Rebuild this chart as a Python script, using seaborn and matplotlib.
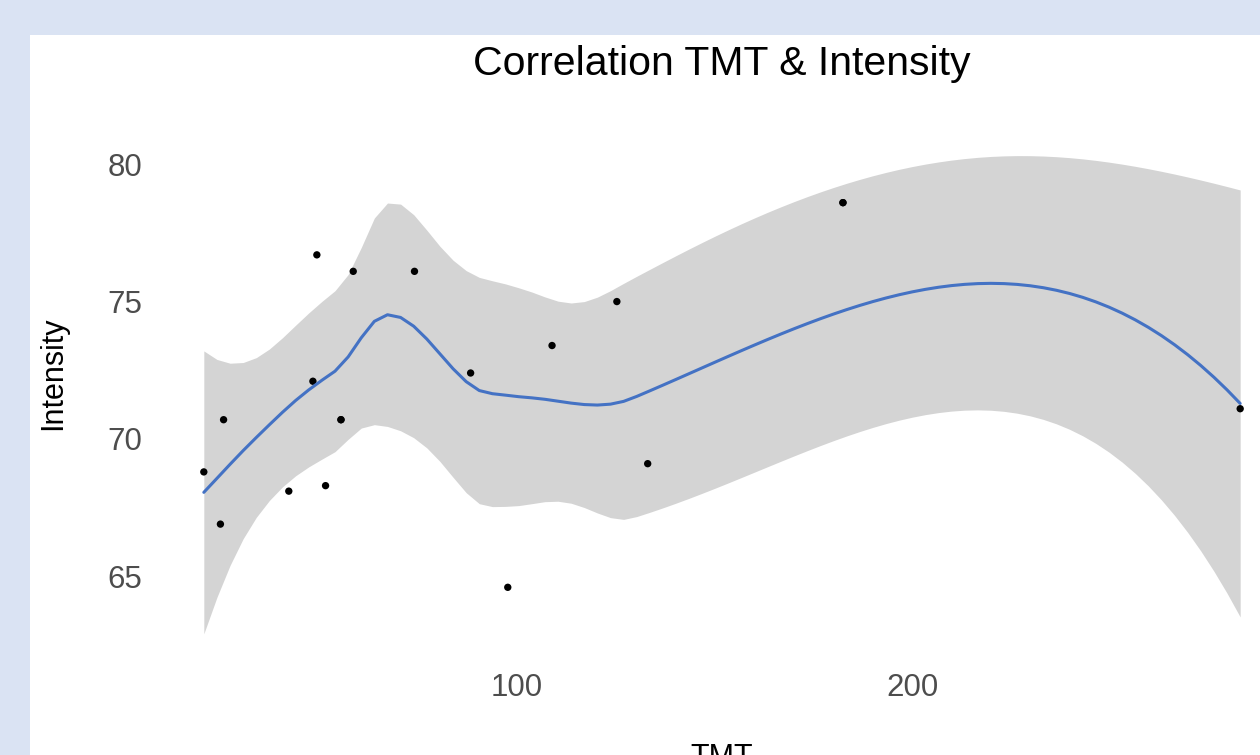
import numpy as np
import pandas as pd
import matplotlib
matplotlib.use("Agg")
import matplotlib.pyplot as plt
from matplotlib.patches import Rectangle
import seaborn as sns
from math import lgamma, pi

tmt = [20.8, 25.0, 25.8, 42.3, 48.4, 49.4, 51.6, 55.5, 55.5, 58.6, 74.1,
       88.3, 97.7, 108.9, 125.3, 133.1, 182.5, 182.5, 283.0]
intensity = [68.8, 66.9, 70.7, 68.1, 72.1, 76.7, 68.3, 70.7, 70.7, 76.1, 76.1,
             72.4, 64.6, 73.4, 75.0, 69.1, 78.6, 78.6, 71.1]
x_ticks = [100, 200]
y_ticks = [65, 70, 75, 80]
y_limits = [62.1, 82.7]
title = "Correlation TMT & Intensity"
x_label = "TMT"
y_label = "Intensity"

df = pd.DataFrame({"TMT": tmt, "Intensity": intensity})


# ---- loess (span 0.75, degree 2, kd-tree + Hermite interpolation as in R) ----
def local_ops(x, x0, span=0.75, degree=2):
    n = len(x)
    q = int(np.floor(n * span + 1e-5))
    d = np.abs(x - x0)
    h = np.sort(d)[q - 1]
    u = np.clip(d / h, 0, 1)
    w = (1 - u ** 3) ** 3
    X = np.vander(x - x0, degree + 1, increasing=True)
    XtW = X.T * w
    B = np.linalg.solve(XtW @ X, XtW)
    return B[0], B[1]


def kd_vertices(xs, fc):
    xs = np.sort(xs)
    rng = xs[-1] - xs[0]
    verts = [xs[0] - 0.005 * rng, xs[-1] + 0.005 * rng]

    def split(lo, hi):
        if hi - lo + 1 <= fc:
            return
        m = (lo + hi) // 2
        if xs[m] != xs[m + 1]:
            verts.append((xs[m] + xs[m + 1]) / 2)
        split(lo, m)
        split(m + 1, hi)

    split(0, len(xs) - 1)
    return np.array(sorted(set(verts)))


def interp_ops(x, pts, span=0.75, cell=0.2):
    fc = int(np.floor(len(x) * span * cell))
    V = kd_vertices(x, fc)
    ops = [local_ops(x, v, span) for v in V]
    val = np.array([o[0] for o in ops])
    slo = np.array([o[1] for o in ops])
    out = []
    for p in pts:
        k = np.clip(np.searchsorted(V, p) - 1, 0, len(V) - 2)
        v0, v1 = V[k], V[k + 1]
        hh = v1 - v0
        t = (p - v0) / hh
        out.append((2 * t ** 3 - 3 * t ** 2 + 1) * val[k]
                   + (t ** 3 - 2 * t ** 2 + t) * hh * slo[k]
                   + (-2 * t ** 3 + 3 * t ** 2) * val[k + 1]
                   + (t ** 3 - t ** 2) * hh * slo[k + 1])
    return np.array(out)


def t_quantile(p, dof):
    c = np.exp(lgamma((dof + 1) / 2) - lgamma(dof / 2)) / np.sqrt(dof * pi)

    def cdf(t):
        g = np.linspace(0, t, 4001)
        f = c * (1 + g ** 2 / dof) ** (-(dof + 1) / 2)
        return 0.5 + np.trapezoid(f, g)

    lo, hi = 0.0, 20.0
    for _ in range(80):
        mid = (lo + hi) / 2
        if cdf(mid) < p:
            lo = mid
        else:
            hi = mid
    return (lo + hi) / 2


xv = df["TMT"].to_numpy(float)
yv = df["Intensity"].to_numpy(float)
n = len(xv)
L = interp_ops(xv, xv)
fitted = L @ yv
IL = np.eye(n) - L
M = IL.T @ IL
delta1 = np.trace(M)
delta2 = np.trace(M @ M)
sigma = np.sqrt(np.sum((yv - fitted) ** 2) / delta1)
dof = delta1 ** 2 / delta2
tq = t_quantile(0.975, dof)

grid = np.linspace(xv.min(), xv.max(), 80)
Lg = interp_ops(xv, grid)
fit = Lg @ yv
se = sigma * np.sqrt(np.sum(Lg ** 2, axis=1))
smooth = pd.DataFrame({"TMT": grid, "fit": fit,
                       "lo": fit - tq * se, "hi": fit + tq * se})

# ---- figure ----
sns.set_theme(style="white")
plt.rcParams["font.family"] = ["Liberation Sans", "DejaVu Sans"]

W, H = 1260, 755
fig = plt.figure(figsize=(W / 100, H / 100), dpi=100)
fig.patch.set_facecolor("#dae3f3")
fig.add_artist(Rectangle((30 / W, 0), 1, 1 - 35 / H, transform=fig.transFigure,
                         facecolor="white", edgecolor="none", zorder=0))

ax = fig.add_axes([152 / W, 1 - 656 / H, 1140 / W, 566 / H])
ax.set_facecolor("none")

ax.fill_between(smooth["TMT"], smooth["lo"], smooth["hi"],
                color="#d4d4d4", linewidth=0, zorder=1)
sns.lineplot(data=smooth, x="TMT", y="fit", ax=ax, color="#4472c4",
             linewidth=2.2, zorder=3)
sns.scatterplot(data=df, x="TMT", y="Intensity", ax=ax, color="black",
                s=28, edgecolor="none", zorder=2)

xr = xv.max() - xv.min()
ax.set_xlim(xv.min() - 0.05 * xr, xv.max() + 0.05 * xr)
ax.set_ylim(*y_limits)

ax.set_xticks(x_ticks)
ax.set_yticks(y_ticks)
ax.tick_params(axis="both", length=0, labelsize=22.5, labelcolor="#4d4d4d")
ax.tick_params(axis="x", pad=12)
ax.tick_params(axis="y", pad=7)
for s in ax.spines.values():
    s.set_visible(False)
ax.grid(False)

ax.set_title(title, fontsize=29.5, color="black", pad=11)
ax.set_xlabel(x_label, fontsize=22, color="black")
ax.set_ylabel(y_label, fontsize=22, color="black")
ax.xaxis.set_label_coords(0.5, -(743 - 656) / 566)
ax.yaxis.set_label_coords(-(152 - 68) / 1140, 0.5)

fig.savefig("out.png", dpi=100)
